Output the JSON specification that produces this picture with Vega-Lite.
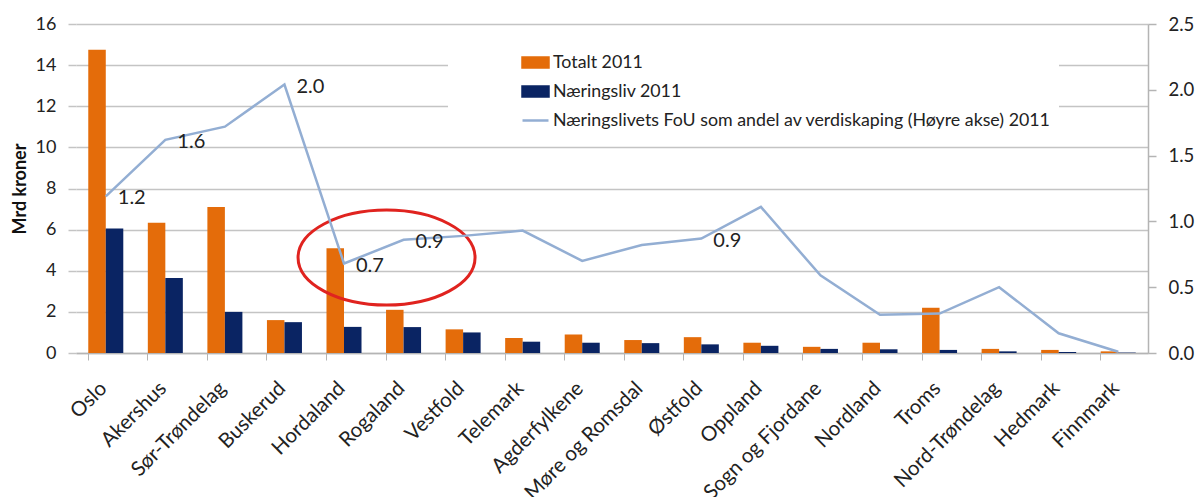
{
  "$schema": "https://vega.github.io/schema/vega-lite/v6.json",
  "width": 1072,
  "height": 329,
  "autosize": {"type": "none"},
  "padding": {"left": 76, "top": 24, "right": 55, "bottom": 144},
  "background": "white",
  "config": {
    "font": "Lato",
    "view": {"stroke": null},
    "axis": {"labelColor": "#222222", "titleColor": "#111111", "labelFont": "Lato", "titleFont": "Lato"},
    "legend": {"labelFont": "Lato"},
    "text": {"font": "Lato"}
  },
  "datasets": {
    "bars": [
      {"fylke": "Oslo", "serie": "Totalt 2011", "mrd": 14.75},
      {"fylke": "Oslo", "serie": "Næringsliv 2011", "mrd": 6.05},
      {"fylke": "Akershus", "serie": "Totalt 2011", "mrd": 6.33},
      {"fylke": "Akershus", "serie": "Næringsliv 2011", "mrd": 3.65},
      {"fylke": "Sør-Trøndelag", "serie": "Totalt 2011", "mrd": 7.1},
      {"fylke": "Sør-Trøndelag", "serie": "Næringsliv 2011", "mrd": 2.0},
      {"fylke": "Buskerud", "serie": "Totalt 2011", "mrd": 1.6},
      {"fylke": "Buskerud", "serie": "Næringsliv 2011", "mrd": 1.5},
      {"fylke": "Hordaland", "serie": "Totalt 2011", "mrd": 5.1},
      {"fylke": "Hordaland", "serie": "Næringsliv 2011", "mrd": 1.27},
      {"fylke": "Rogaland", "serie": "Totalt 2011", "mrd": 2.1},
      {"fylke": "Rogaland", "serie": "Næringsliv 2011", "mrd": 1.26},
      {"fylke": "Vestfold", "serie": "Totalt 2011", "mrd": 1.15},
      {"fylke": "Vestfold", "serie": "Næringsliv 2011", "mrd": 1.0},
      {"fylke": "Telemark", "serie": "Totalt 2011", "mrd": 0.73},
      {"fylke": "Telemark", "serie": "Næringsliv 2011", "mrd": 0.55},
      {"fylke": "Agderfylkene", "serie": "Totalt 2011", "mrd": 0.9},
      {"fylke": "Agderfylkene", "serie": "Næringsliv 2011", "mrd": 0.5},
      {"fylke": "Møre og Romsdal", "serie": "Totalt 2011", "mrd": 0.63},
      {"fylke": "Møre og Romsdal", "serie": "Næringsliv 2011", "mrd": 0.48},
      {"fylke": "Østfold", "serie": "Totalt 2011", "mrd": 0.77},
      {"fylke": "Østfold", "serie": "Næringsliv 2011", "mrd": 0.42},
      {"fylke": "Oppland", "serie": "Totalt 2011", "mrd": 0.5},
      {"fylke": "Oppland", "serie": "Næringsliv 2011", "mrd": 0.35},
      {"fylke": "Sogn og Fjordane", "serie": "Totalt 2011", "mrd": 0.3},
      {"fylke": "Sogn og Fjordane", "serie": "Næringsliv 2011", "mrd": 0.2},
      {"fylke": "Nordland", "serie": "Totalt 2011", "mrd": 0.5},
      {"fylke": "Nordland", "serie": "Næringsliv 2011", "mrd": 0.18},
      {"fylke": "Troms", "serie": "Totalt 2011", "mrd": 2.2},
      {"fylke": "Troms", "serie": "Næringsliv 2011", "mrd": 0.15},
      {"fylke": "Nord-Trøndelag", "serie": "Totalt 2011", "mrd": 0.2},
      {"fylke": "Nord-Trøndelag", "serie": "Næringsliv 2011", "mrd": 0.08},
      {"fylke": "Hedmark", "serie": "Totalt 2011", "mrd": 0.15},
      {"fylke": "Hedmark", "serie": "Næringsliv 2011", "mrd": 0.05},
      {"fylke": "Finnmark", "serie": "Totalt 2011", "mrd": 0.08},
      {"fylke": "Finnmark", "serie": "Næringsliv 2011", "mrd": 0.02}
    ],
    "andel": [
      {"fylke": "Oslo", "andel": 1.19, "etikett": "1.2"},
      {"fylke": "Akershus", "andel": 1.62, "etikett": "1.6"},
      {"fylke": "Sør-Trøndelag", "andel": 1.72},
      {"fylke": "Buskerud", "andel": 2.04, "etikett": "2.0"},
      {"fylke": "Hordaland", "andel": 0.68, "etikett": "0.7"},
      {"fylke": "Rogaland", "andel": 0.86, "etikett": "0.9"},
      {"fylke": "Vestfold", "andel": 0.89},
      {"fylke": "Telemark", "andel": 0.93},
      {"fylke": "Agderfylkene", "andel": 0.7},
      {"fylke": "Møre og Romsdal", "andel": 0.82},
      {"fylke": "Østfold", "andel": 0.87, "etikett": "0.9"},
      {"fylke": "Oppland", "andel": 1.11},
      {"fylke": "Sogn og Fjordane", "andel": 0.59},
      {"fylke": "Nordland", "andel": 0.29},
      {"fylke": "Troms", "andel": 0.3},
      {"fylke": "Nord-Trøndelag", "andel": 0.5},
      {"fylke": "Hedmark", "andel": 0.15},
      {"fylke": "Finnmark", "andel": 0.01}
    ]
  },
  "layer": [
    {
      "layer": [
        {
          "data": {"name": "bars"},
          "mark": {"type": "bar"},
          "encoding": {
            "x": {
              "field": "fylke",
              "type": "nominal",
              "sort": null,
              "scale": {"paddingInner": 0.412, "paddingOuter": 0.206},
              "axis": {
                "title": null,
                "labelAngle": -45,
                "labelAlign": "right",
                "labelBaseline": "middle",
                "labelFontSize": 20.5,
                "labelPadding": 25,
                "bandPosition": 0,
                "labelOffset": -2,
                "tickSize": 7,
                "tickColor": "#B4B4B4",
                "domainColor": "#B4B4B4",
                "domainWidth": 1.5,
                "grid": false
              }
            },
            "xOffset": {"field": "serie", "type": "nominal", "sort": ["Totalt 2011", "Næringsliv 2011"]},
            "y": {
              "field": "mrd",
              "type": "quantitative",
              "scale": {"domain": [0, 16], "nice": false},
              "axis": {
                "title": "Mrd kroner",
                "titleFontSize": 18,
                "titleFontWeight": "bold",
                "titlePadding": 6,
                "values": [0, 2, 4, 6, 8, 10, 12, 14, 16],
                "labelFontSize": 18,
                "labelPadding": 12,
                "tickSize": 8,
                "tickColor": "#C4C4C4",
                "tickWidth": 1.5,
                "domain": false,
                "grid": true,
                "gridColor": "#C4C4C4",
                "gridWidth": 1.5
              }
            },
            "color": {
              "field": "serie",
              "type": "nominal",
              "scale": {
                "domain": ["Totalt 2011", "Næringsliv 2011", "Næringslivets FoU som andel av verdiskaping (Høyre akse) 2011"],
                "range": ["#E46C0A", "#0A2463", "#93AED3"]
              },
              "legend": {
                "orient": "none",
                "legendX": 372,
                "legendY": 16,
                "direction": "vertical",
                "title": null,
                "labelFontSize": 17.8,
                "labelColor": "#222222",
                "labelOffset": 3,
                "labelLimit": 800,
                "symbolSize": 676,
                "symbolOffset": 65,
                "rowPadding": 4,
                "padding": 8,
                "fillColor": "white",
                "encode": {
                  "symbols": {
                    "update": {
                      "shape": [
                        {"test": "datum.value === 'Næringslivets FoU som andel av verdiskaping (Høyre akse) 2011'", "value": "M -1 0 H 1"},
                        {"value": "M -1 -0.385 H 1 V 0.385 H -1 Z"}
                      ],
                      "fill": [
                        {"test": "datum.value === 'Næringslivets FoU som andel av verdiskaping (Høyre akse) 2011'", "value": "transparent"},
                        {"scale": "color", "field": "value"}
                      ],
                      "stroke": [
                        {"test": "datum.value === 'Næringslivets FoU som andel av verdiskaping (Høyre akse) 2011'", "value": "#93AED3"},
                        {"value": "transparent"}
                      ],
                      "strokeWidth": {"value": 2.5},
                      "opacity": {"value": 1}
                    }
                  }
                }
              }
            }
          }
        },
        {
          "data": {"values": [{}]},
          "mark": {
            "type": "point",
            "shape": "M -1 0 A 1 0.537 0 1 0 1 0 A 1 0.537 0 1 0 -1 0 Z",
            "size": 31329,
            "filled": false,
            "stroke": "#E0231F",
            "strokeWidth": 3,
            "opacity": 1,
            "xOffset": -17
          },
          "encoding": {
            "x": {"datum": "Rogaland", "type": "nominal"},
            "y": {"datum": 4.64, "type": "quantitative"}
          }
        }
      ]
    },
    {
      "data": {"name": "andel"},
      "layer": [
        {
          "mark": {"type": "line", "strokeWidth": 2.5, "color": "#93AED3"},
          "encoding": {
            "x": {"field": "fylke", "type": "nominal", "sort": null},
            "y": {
              "field": "andel",
              "type": "quantitative",
              "scale": {"domain": [0, 2.5], "nice": false},
              "axis": {
                "orient": "right",
                "title": null,
                "values": [0, 0.5, 1, 1.5, 2, 2.5],
                "format": ".1f",
                "labelFontSize": 18.5,
                "labelPadding": 12,
                "tickSize": 8,
                "tickColor": "#B4B4B4",
                "tickWidth": 1.5,
                "domain": true,
                "domainColor": "#B4B4B4",
                "domainWidth": 1.5,
                "grid": false
              }
            },
            "color": {"datum": "Næringslivets FoU som andel av verdiskaping (Høyre akse) 2011"}
          }
        },
        {
          "transform": [{"filter": "isValid(datum.etikett)"}],
          "mark": {"type": "text", "align": "left", "baseline": "middle", "dx": 12, "dy": 2, "fontSize": 20, "color": "#222222"},
          "encoding": {
            "x": {"field": "fylke", "type": "nominal", "sort": null},
            "y": {"field": "andel", "type": "quantitative"},
            "text": {"field": "etikett", "type": "nominal"}
          }
        }
      ]
    }
  ],
  "resolve": {"scale": {"y": "independent"}}
}
